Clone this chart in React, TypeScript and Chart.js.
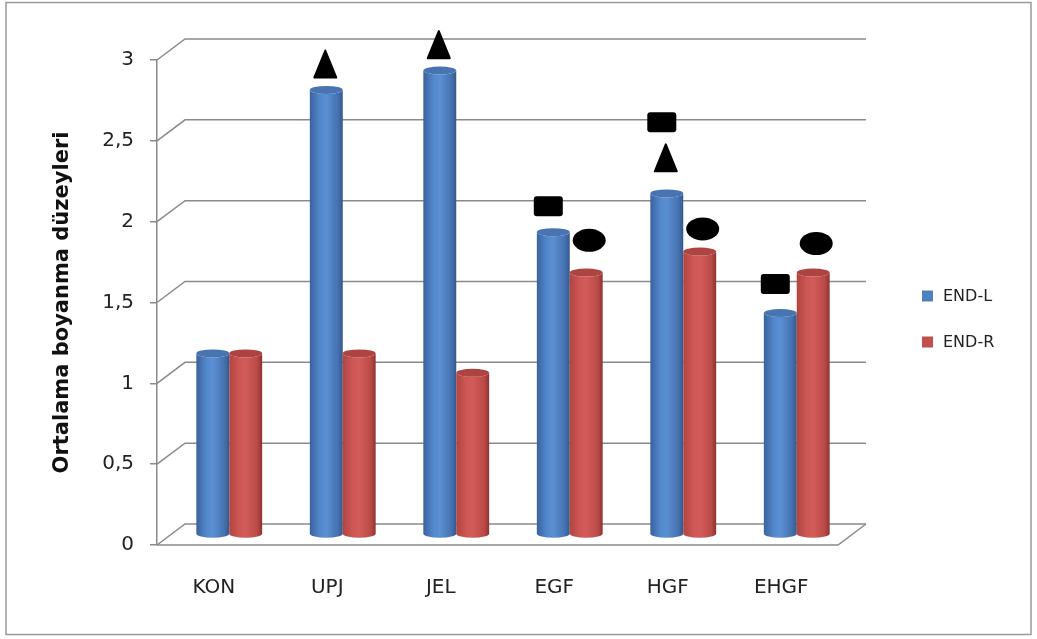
import { useEffect, useRef } from 'react';
import { Chart, registerables } from 'chart.js';

Chart.register(...registerables);

// Categories and mean staining levels per group
const categories = ['KON', 'UPJ', 'JEL', 'EGF', 'HGF', 'EHGF'];
const endL = [1.12, 2.75, 2.87, 1.87, 2.11, 1.37];
const endR = [1.12, 1.12, 1.0, 1.62, 1.75, 1.62];
const yTickValues = [0, 0.5, 1, 1.5, 2, 2.5, 3];

// Significance symbols (level in axis units, null = none)
const triangleL = [null, 2.91, 3.03, null, 2.33, null];
const squareL = [null, null, null, 2.03, 2.55, 1.55];
const ellipseR = [null, null, null, 1.82, 1.89, 1.8];

const seriesNames = ['END-L', 'END-R'];
const seriesColors = ['#4F81BD', '#C0504D'];

// 3D depth of the walls (back wall offset); bars stand at about half depth
const DX = 28;
const DY = 21;
const BAR_DX = 15.5;
const BAR_DY = 10.5;
const GRID = '#8a8a8a';
const TEXT = '#222222';

const bodyStops: [number, string][][] = [
  [
    [0, '#3a629c'],
    [0.3, '#5287cc'],
    [0.5, '#5a8fd3'],
    [0.85, '#4672b0'],
    [1, '#34588c'],
  ],
  [
    [0, '#b04441'],
    [0.3, '#cd5754'],
    [0.5, '#d25c59'],
    [0.85, '#ba4a47'],
    [1, '#8c3331'],
  ],
];
const capColors = ['#4874b1', '#ad4441'];

function drawCylinder(
  ctx: CanvasRenderingContext2D,
  cx: number,
  top: number,
  base: number,
  w: number,
  stops: [number, string][],
  cap: string
) {
  const l = cx - w / 2;
  const r = cx + w / 2;
  const ry = 4;
  const g = ctx.createLinearGradient(l, 0, r, 0);
  stops.forEach(([o, c]) => g.addColorStop(o, c));
  ctx.beginPath();
  ctx.moveTo(l, top);
  ctx.lineTo(l, base);
  ctx.ellipse(cx, base, w / 2, ry, 0, Math.PI, 0, true);
  ctx.lineTo(r, top);
  ctx.ellipse(cx, top, w / 2, ry, 0, 0, Math.PI, false);
  ctx.closePath();
  ctx.fillStyle = g;
  ctx.fill();
  ctx.beginPath();
  ctx.ellipse(cx, top, w / 2, ry, 0, 0, Math.PI * 2);
  ctx.fillStyle = cap;
  ctx.fill();
}

const depthPlugin = {
  id: 'depth3d',
  beforeDraw(chart: any) {
    const { ctx, width, height } = chart;
    ctx.save();
    ctx.fillStyle = '#ffffff';
    ctx.fillRect(0, 0, width, height);
    ctx.strokeStyle = '#9a9a9a';
    ctx.lineWidth = 1.5;
    ctx.strokeRect(6, 2.5, 1025, 632);
    ctx.restore();
  },
  beforeDatasetsDraw(chart: any) {
    const { ctx, chartArea, scales } = chart;
    const { left, right, bottom } = chartArea;
    const y = scales.y;
    ctx.save();
    ctx.strokeStyle = GRID;
    ctx.lineWidth = 1.5;
    // side wall diagonals and back wall gridlines
    yTickValues.forEach((v) => {
      const py = y.getPixelForValue(v);
      ctx.beginPath();
      ctx.moveTo(left, py);
      ctx.lineTo(left + DX, py - DY);
      ctx.lineTo(right + DX, py - DY);
      ctx.stroke();
    });
    // floor front edge and right side
    ctx.beginPath();
    ctx.moveTo(left, bottom);
    ctx.lineTo(right, bottom);
    ctx.lineTo(right + DX, bottom - DY);
    ctx.stroke();

    // cylinders
    chart.data.datasets.forEach((_: any, di: number) => {
      const meta = chart.getDatasetMeta(di);
      meta.data.forEach((el: any) => {
        drawCylinder(
          ctx,
          el.x + BAR_DX,
          el.y - BAR_DY,
          el.base - BAR_DY,
          el.width,
          bodyStops[di],
          capColors[di]
        );
      });
    });

    // significance symbols
    ctx.fillStyle = '#000000';
    ctx.strokeStyle = '#000000';
    ctx.lineJoin = 'round';
    ctx.lineWidth = 2;
    const metaL = chart.getDatasetMeta(0);
    const metaR = chart.getDatasetMeta(1);
    triangleL.forEach((v, i) => {
      if (v == null) return;
      const x = metaL.data[i].x + BAR_DX - 1;
      const py = y.getPixelForValue(v) - BAR_DY;
      const w = 22;
      const h = 27;
      ctx.beginPath();
      ctx.moveTo(x, py - h / 2);
      ctx.lineTo(x + w / 2, py + h / 2);
      ctx.lineTo(x - w / 2, py + h / 2);
      ctx.closePath();
      ctx.fill();
      ctx.stroke();
    });
    squareL.forEach((v, i) => {
      if (v == null) return;
      const x = metaL.data[i].x + BAR_DX - 5;
      const py = y.getPixelForValue(v) - BAR_DY;
      ctx.beginPath();
      ctx.roundRect(x - 14.5, py - 10, 29, 20, 3);
      ctx.fill();
    });
    ellipseR.forEach((v, i) => {
      if (v == null) return;
      const x = metaR.data[i].x + BAR_DX + 3;
      const py = y.getPixelForValue(v) - BAR_DY;
      ctx.beginPath();
      ctx.ellipse(x, py, 16.5, 11.5, 0, 0, Math.PI * 2);
      ctx.fill();
    });
    ctx.restore();
    return false;
  },
  afterDraw(chart: any) {
    const { ctx } = chart;
    ctx.save();
    ctx.font = '16px "DejaVu Sans"';
    ctx.textBaseline = 'middle';
    ctx.textAlign = 'left';
    seriesNames.forEach((name, i) => {
      const cy = 296 + i * 46;
      ctx.fillStyle = seriesColors[i];
      ctx.fillRect(922, cy - 5.5, 11, 11);
      ctx.fillStyle = TEXT;
      ctx.fillText(name, 943, cy + 1);
    });
    ctx.restore();
  },
};

export default function App() {
  const ref = useRef<HTMLCanvasElement | null>(null);

  useEffect(() => {
    if (!ref.current) return;
    const chart = new Chart(ref.current, {
      type: 'bar',
      data: {
        labels: categories,
        datasets: [
          { label: seriesNames[0], data: endL, backgroundColor: seriesColors[0] },
          { label: seriesNames[1], data: endR, backgroundColor: seriesColors[1] },
        ],
      },
      options: {
        responsive: false,
        animation: false,
        devicePixelRatio: 1,
        layout: { padding: { left: 0, top: 60, right: 199, bottom: 0 } },
        datasets: { bar: { categoryPercentage: 0.58, barPercentage: 1 } },
        plugins: {
          legend: { display: false },
          tooltip: { enabled: false },
        },
        scales: {
          x: {
            grid: { display: false, drawTicks: false },
            border: { display: false },
            ticks: {
              color: TEXT,
              padding: 31,
              font: { family: 'DejaVu Sans', size: 20 },
            },
            afterFit(scale: any) {
              scale.height = 94;
            },
          },
          y: {
            min: 0,
            max: 3,
            ticks: {
              stepSize: 0.5,
              color: TEXT,
              padding: 16,
              font: { family: 'DejaVu Sans', size: 20 },
              callback: (v: any) => String(v).replace('.', ','),
            },
            grid: {
              drawOnChartArea: false,
              drawTicks: true,
              tickLength: 7,
              color: GRID,
              lineWidth: 1.5,
            },
            border: { display: true, color: GRID, width: 1.5 },
            title: {
              display: true,
              text: 'Ortalama boyanma düzeyleri',
              color: '#111111',
              padding: { top: 50, bottom: 0 },
              font: { family: 'DejaVu Sans', size: 21, weight: 'bold' },
            },
            afterFit(scale: any) {
              scale.width = 157;
            },
          },
        },
      },
      plugins: [depthPlugin],
    } as any);
    return () => chart.destroy();
  }, []);

  return (
    <div style={{ position: 'fixed', left: 0, top: 0, width: 1037, height: 639, background: '#fff' }}>
      <canvas ref={ref} width={1037} height={639} style={{ display: 'block' }} />
    </div>
  );
}
